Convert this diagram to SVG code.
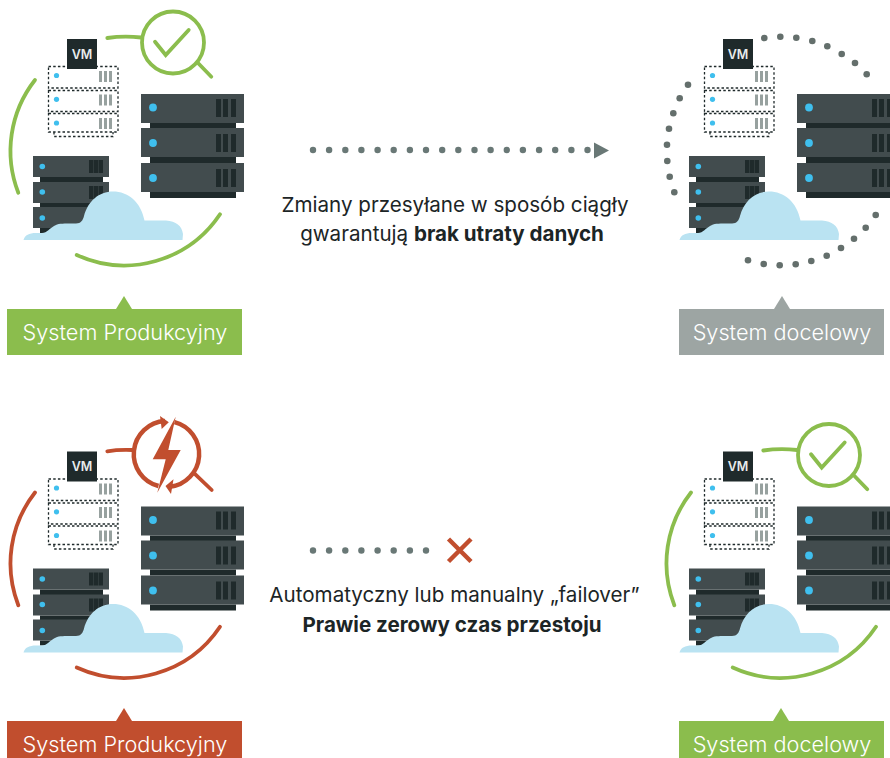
<svg xmlns="http://www.w3.org/2000/svg" width="890" height="758" viewBox="0 0 890 758">
<style>
text{font-family:Inter,"Liberation Sans",sans-serif}
.cap{font-size:20.6px;fill:#1c2526;text-anchor:middle}
.capb{font-weight:700}
.lab{font-size:21.7px;fill:#fff;text-anchor:middle;font-weight:300}
.vm{font-size:12.5px;font-weight:600;fill:#e8ecec;text-anchor:middle}
.body{fill:#424c4e}.dark{fill:#1f2a2b}.blue{fill:#3fbfee}.slot{fill:#97a19f}
.dash{fill:none;stroke:#1f2a2b;stroke-width:1.3;stroke-dasharray:2.500 2.200}
.cloud{fill:#bae3f2}
.dot{fill:#697876}
.ring{fill:none;stroke-width:3.800;stroke-linecap:round}
.g{stroke:#8bbd4d}.r{stroke:#c14e2e}
.cd{fill:#646f6c}
</style>
<defs>
<g id="stack">
<path class="dash" d="M48.500 66.500H118V88H48.500ZM48.500 90.500H118V111.500H48.500ZM48.500 113.500H118V132H48.500ZM54 132V136.500H113V132"/>
<circle class="blue" cx="56.500" cy="75.500" r="2.600"/><circle class="blue" cx="56.500" cy="99.300" r="2.600"/><circle class="blue" cx="56.500" cy="123" r="2.600"/>
<path class="slot" d="M99 71h3v11h-3zM104 71h3v11h-3zM109 71h3v11h-3zM99 94.500h3v11h-3zM104 94.500h3v11h-3zM109 94.500h3v11h-3zM99 118h3v11h-3zM104 118h3v11h-3zM109 118h3v11h-3z"/>
<rect class="dark" x="67" y="39" width="30" height="30"/>
<text class="vm" x="82" y="58.500">VM</text>
<path class="dark" d="M40 177h63v5.500H40zM40 203h63v5.500H40zM40 228h14v5H40z"/>
<path class="body" d="M33 156h76v21H33zM33 182h76v21H33zM33 207h76v21H33z"/>
<path class="dark" d="M89 160h4.500v13H89zM94 160h4.500v13H94zM99 160h4v13h-4zM89 186h4.500v13H89zM94 186h4.500v13H94zM99 186h4v13h-4zM89 211h4.500v13H89zM94 211h4.500v13H94zM99 211h4v13h-4z"/>
<circle class="blue" cx="42.300" cy="166.500" r="2.800"/><circle class="blue" cx="42.300" cy="192" r="2.800"/><circle class="blue" cx="42.300" cy="218" r="2.800"/>
<path class="dark" d="M150 123h86v6h-86zM150 157h86v6h-86zM150 192h86v6h-86z"/>
<path class="body" d="M141 94h103v29H141zM141 128h103v29H141zM141 163h103v29H141z"/>
<path class="dark" d="M216 99h5v18h-5zM223 99h5v18h-5zM231 99h5v18h-5zM216 134h5v18h-5zM223 134h5v18h-5zM231 134h5v18h-5zM216 169h5v18h-5zM223 169h5v18h-5zM231 169h5v18h-5z"/>
<circle class="blue" cx="153" cy="107.500" r="3.900"/><circle class="blue" cx="153" cy="143" r="3.900"/><circle class="blue" cx="153" cy="178" r="3.900"/>
<path class="cloud" d="M23.500 240C25 235 29 233 36 233H42C47 233 50 228 54 226C58 223.500 62 223.500 70 223.500H76C81 223.500 83 220 84 216C88 201 99 191.500 113 191.500C128 191.500 141 202 144.500 220.500H166C176 221 182 226 183 234L182.500 240Z"/>
</g>
<g id="check">
<circle class="ring g" cx="173" cy="42.500" r="31"/>
<path class="ring g" d="M155 41.700L165.700 55L188.700 30M198 63L211.300 76.700"/>
</g>
<path id="arcL" d="M35 80A115 115 0 0 0 18.300 192.700"/>
<path id="arcB" d="M76.700 255A115 115 0 0 0 220 214.300"/>
<path id="arcT" d="M107.300 38Q124 35.500 141 37.500"/>
</defs>

<g id="node-production-ok">
<use href="#stack"/>
<use href="#check"/>
<rect x="7" y="309" width="235" height="46" fill="#8bbd4d"/>
<path d="M116 309L124 296L132 309Z" fill="#8bbd4d"/>
<text class="lab" x="125" y="339.500">System Produkcyjny</text>
</g>

<g id="node-target-standby">
<use href="#stack" x="656"/>
<g class="cd">
<circle cx="764.300" cy="38" r="3.300"/><circle cx="780.300" cy="36.700" r="3.300"/><circle cx="796.300" cy="37.700" r="3.300"/><circle cx="812.300" cy="41" r="3.300"/><circle cx="827.300" cy="46.300" r="3.300"/><circle cx="841.700" cy="54" r="3.300"/><circle cx="855" cy="63" r="3.300"/><circle cx="866.700" cy="74.300" r="3.300"/>
<circle cx="688" cy="84.700" r="3.300"/><circle cx="679.700" cy="98.300" r="3.300"/><circle cx="673.300" cy="113.300" r="3.300"/><circle cx="669" cy="128.700" r="3.300"/><circle cx="667" cy="144.700" r="3.300"/><circle cx="667.300" cy="161" r="3.300"/><circle cx="669.700" cy="176.700" r="3.300"/><circle cx="674.300" cy="192.300" r="3.300"/>
<circle cx="748" cy="260.300" r="3.300"/><circle cx="763.700" cy="264" r="3.300"/><circle cx="779.700" cy="265.300" r="3.300"/><circle cx="795.700" cy="264.300" r="3.300"/><circle cx="811.300" cy="261" r="3.300"/><circle cx="826.700" cy="255.700" r="3.300"/><circle cx="841" cy="248" r="3.300"/><circle cx="854" cy="238.700" r="3.300"/><circle cx="865.700" cy="227.700" r="3.300"/><circle cx="875.700" cy="215" r="3.300"/>
</g>
<rect x="679" y="309" width="205" height="46" fill="#9da5a3"/>
<path d="M774 309L782 296L790 309Z" fill="#9da5a3"/>
<text class="lab" x="782" y="339.500">System docelowy</text>
</g>

<g id="node-production-fail" transform="translate(0 412.500)">
<use href="#stack"/>
<path class="ring r" style="stroke-width:4.500;stroke-linecap:butt" d="M158.500 73.500A33 33 0 0 1 165 8.600M174.500 9.600A33 33 0 0 1 170 74.300"/>
<path class="ring r" d="M194.300 60.800L211.700 77.500"/>
<path fill="#c14e2e" d="M160 3.500L168.800 9.800L161.700 16.500ZM173.500 66.800L165.500 73.500L171 81.500Z"/>
<path fill="#c14e2e" d="M175.700 4.200L152.700 46.800H165.700L157.300 80.200L180.700 37.500H168.300Z"/>
<rect x="7" y="308.500" width="235" height="46" fill="#c14e2e"/>
<path d="M116 308.500L124 295.500L132 308.500Z" fill="#c14e2e"/>
<text class="lab" x="125" y="339">System Produkcyjny</text>
</g>

<g id="node-target-ok" transform="translate(656 412.500)">
<use href="#stack"/>
<use href="#check"/>
<rect x="23" y="308.500" width="205" height="46" fill="#8bbd4d"/>
<path d="M117 308.500L125 295.500L133 308.500Z" fill="#8bbd4d"/>
<text class="lab" x="126" y="339">System docelowy</text>
</g>

<g id="connectors">
<g class="ring g">
<use href="#arcL"/><use href="#arcB"/><use href="#arcT"/>
</g>
<g class="ring r" transform="translate(0 412.500)">
<use href="#arcL"/><use href="#arcB"/><path d="M107.300 38.800Q118 37 132 37.500"/>
</g>
<g class="ring g" transform="translate(656 412.500)">
<use href="#arcL"/><use href="#arcB"/><use href="#arcT"/>
</g>
<g class="dot">
<circle cx="313" cy="150" r="3.200"/><circle cx="329.100" cy="150" r="3.200"/><circle cx="345.300" cy="150" r="3.200"/><circle cx="361.400" cy="150" r="3.200"/><circle cx="377.600" cy="150" r="3.200"/><circle cx="393.700" cy="150" r="3.200"/><circle cx="409.900" cy="150" r="3.200"/><circle cx="426" cy="150" r="3.200"/><circle cx="442.200" cy="150" r="3.200"/><circle cx="458.300" cy="150" r="3.200"/><circle cx="474.500" cy="150" r="3.200"/><circle cx="490.600" cy="150" r="3.200"/><circle cx="506.800" cy="150" r="3.200"/><circle cx="522.900" cy="150" r="3.200"/><circle cx="539.100" cy="150" r="3.200"/><circle cx="555.200" cy="150" r="3.200"/><circle cx="571.400" cy="150" r="3.200"/><circle cx="587.500" cy="150" r="3.200"/>
<path d="M594 142.500L609 150.500L594 158.500Z"/>
<circle cx="313" cy="550.500" r="3.200"/><circle cx="329.100" cy="550.500" r="3.200"/><circle cx="345.300" cy="550.500" r="3.200"/><circle cx="361.400" cy="550.500" r="3.200"/><circle cx="377.600" cy="550.500" r="3.200"/><circle cx="393.700" cy="550.500" r="3.200"/><circle cx="409.900" cy="550.500" r="3.200"/><circle cx="426" cy="550.500" r="3.200"/>
</g>
<path d="M448.500 539L471 561.500M471 539L448.500 561.500" fill="none" stroke="#c14e2e" stroke-width="4.500"/>
</g>

<g id="captions">
<text class="cap" x="455" y="212">Zmiany przesyłane w sposób ciągły</text>
<text class="cap" x="452" y="241">gwarantują <tspan class="capb">brak utraty danych</tspan></text>
<text class="cap" x="454.500" y="602">Automatyczny lub manualny „failover”</text>
<text class="cap capb" x="452" y="632">Prawie zerowy czas przestoju</text>
</g>
</svg>
